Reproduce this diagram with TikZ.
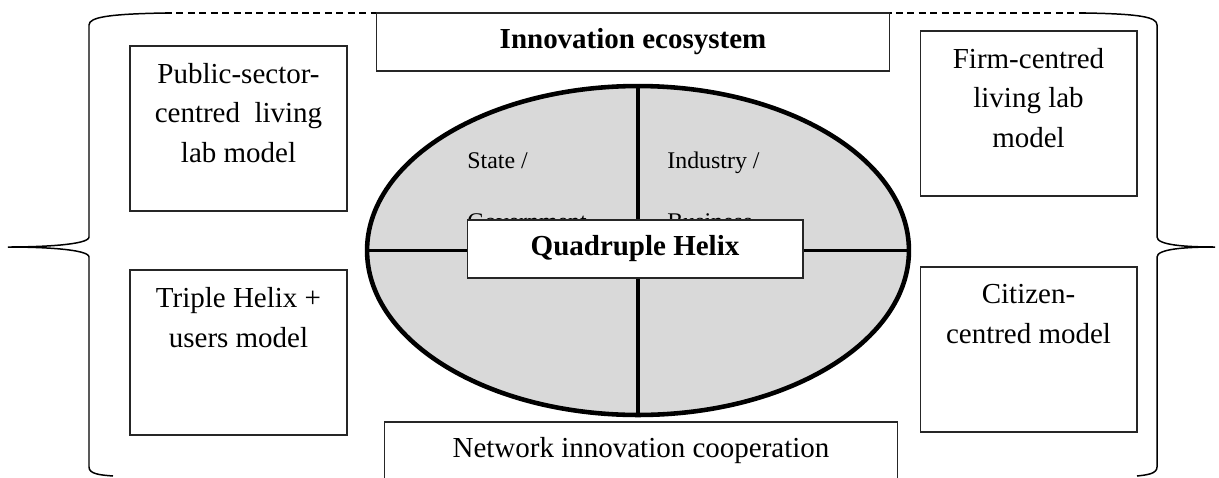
\documentclass[tikz,border=0pt]{standalone}
\usepackage{fontspec}
\setmainfont{Liberation Serif}
\usetikzlibrary{shapes.geometric}

\begin{document}
\begin{tikzpicture}[x=0.02cm, y=-0.02cm,
  modelbox/.style={draw=black!85, line width=0.6pt, minimum width=4.34cm, minimum height=3.3cm, inner sep=0pt},
  modeltext/.style={font=\fontsize{16.5}{22.4}\selectfont, align=center, inner sep=0pt, anchor=base},
  widebox/.style={draw=black!85, line width=0.6pt, fill=white, minimum width=10.28cm, minimum height=1.16cm, inner sep=0pt},
  helixfill/.style={fill=black!15, draw=black, line width=2.6pt},
  divider/.style={draw=black, line width=2.2pt},
  quartertext/.style={font=\fontsize{13.6}{16}\selectfont, anchor=base west, inner sep=0pt},
  bracket/.style={draw=black, line width=0.85pt}]
  \useasboundingbox (0,0) rectangle (1219,477);

  % Brackets (left and right) with dashed top
  \coordinate (ltop) at (165,13);
  \coordinate (rtop) at (1086,13);
  \draw[bracket] (ltop) .. controls (110,14) and (89,17) .. (89,25) -- (89,237)
    .. controls (89,245) and (40,247) .. (8,247)
    .. controls (40,247) and (89,249) .. (89,257) -- (89,467)
    .. controls (89,474) and (100,475) .. (113,476);
  \draw[bracket] (rtop) .. controls (1140,14) and (1157,17) .. (1157,25) -- (1157,237)
    .. controls (1157,245) and (1185,247) .. (1215,247)
    .. controls (1185,247) and (1157,249) .. (1157,257) -- (1157,467)
    .. controls (1157,474) and (1146,475) .. (1137,476);
  \draw[dashed, dash pattern=on 4pt off 2.5pt, line width=0.7pt] (ltop) -- (rtop);

  % Living lab models (text placed by its last baseline)
  \node[modelbox] (pub) at (238.5,128.5) {};
  \node[modeltext] (pubtxt) at (238.5,162) {Public-sector-\\centred\ \ living\\lab model};
  \node[modelbox] (tri) at (238.5,352.5) {};
  \node[modeltext] (tritxt) at (238.5,347) {Triple Helix +\\users model};
  \node[modelbox] (firm) at (1028.5,113.5) {};
  \node[modeltext] (firmtxt) at (1028.5,147) {Firm-centred\\living lab\\model};
  \node[modelbox] (cit) at (1028.5,349.5) {};
  \node[modeltext] (cittxt) at (1028.5,343) {Citizen-\\centred model};

  % Ecosystem and network boxes
  \node[widebox, font=\fontsize{16.5}{20}\selectfont\bfseries] (eco) at (633,42) {Innovation ecosystem};
  \node[widebox, minimum height=1.4cm] (net) at (641,457) {};
  \node[modeltext] (nettxt) at (641,457) {Network innovation cooperation};

  % Quadruple helix
  \node[helixfill, ellipse, minimum width=10.84cm, minimum height=6.58cm, inner sep=0pt] (helix) at (638,250.5) {};
  \draw[divider] (helix.north) -- (helix.south);
  \draw[divider] (helix.west) -- (helix.east);
  \node[quartertext] (state) at (467,168) {State /};
  \node[quartertext] (gov) at (467,229) {Government};
  \node[quartertext] (ind) at (667,168) {Industry /};
  \node[quartertext] (bus) at (667,229) {Business};
  \node[draw=black!85, line width=0.6pt, fill=white, minimum width=6.72cm, minimum height=1.16cm, inner sep=0pt,
    font=\fontsize{16.5}{20}\selectfont\bfseries] (quad) at (635,249) {Quadruple Helix};
\end{tikzpicture}
\end{document}
